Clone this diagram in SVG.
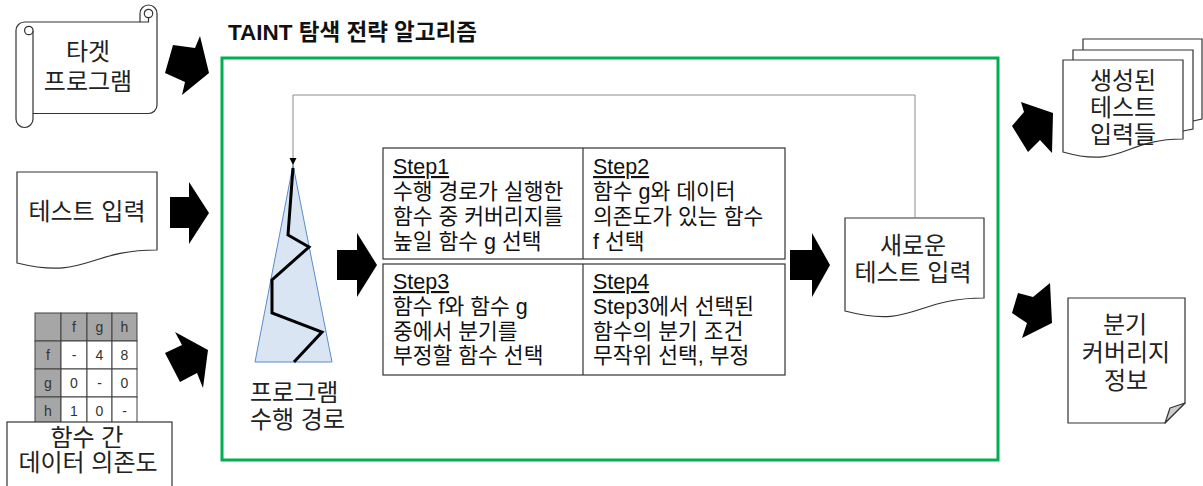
<svg xmlns="http://www.w3.org/2000/svg" width="1203" height="486" viewBox="0 0 1203 486">
<defs>
<style>
.t{font-family:"Liberation Sans","Noto Sans CJK KR",sans-serif;font-size:24px;fill:#222}
.c{text-anchor:middle}
.s{font-family:"Liberation Sans","Noto Sans CJK KR",sans-serif;font-size:21.5px;fill:#111}
.u{text-decoration:underline}
.ln{fill:#fff;stroke:#333;stroke-width:1.2}
.blk{fill:#000}
.cell{stroke:#404040;stroke-width:1}
.g{fill:#a6a6a6}
.w{fill:#fff}
.ct{font-family:"Liberation Sans",sans-serif;font-size:14px;fill:#333;text-anchor:middle}
</style>
<marker id="ah" markerWidth="8" markerHeight="8" refX="7" refY="4" orient="auto" markerUnits="userSpaceOnUse">
<path d="M0,0.5 L7,4 L0,7.5 Z" fill="#000"/>
</marker>
</defs>
<rect width="1203" height="486" fill="#fff"/>

<g id="title">
<text x="228" y="40" style="font-family:'Liberation Sans','Noto Sans CJK KR',sans-serif;font-size:22.5px;font-weight:bold;fill:#111">TAINT 탐색 전략 알고리즘</text>
</g>

<g id="frame">
<rect x="222" y="58" width="776" height="402" fill="none" stroke="#00b050" stroke-width="3"/>
</g>

<g id="target-program">
<path class="ln" d="M33,22 H140 V13.5 A8.5,8.5 0 0 1 157,13.5 V105 A8.5,8.5 0 0 1 148.5,113.5 H33 V119 A8.5,8.5 0 0 1 16,119 V30.5 A8.5,8.5 0 0 1 24.5,22 Z"/>
<path fill="none" stroke="#333" stroke-width="1.2" d="M33,30.5 V113.5 M140,22 H148.5 V13.5"/>
<circle cx="28.8" cy="30.5" r="4.2" fill="#fff" stroke="#333" stroke-width="1.2"/>
<circle cx="148.5" cy="13.5" r="4.2" fill="#fff" stroke="#333" stroke-width="1.2"/>
<text class="t c" x="88" y="60">타겟</text>
<text class="t c" x="88" y="90">프로그램</text>
</g>

<g id="test-input">
<path class="ln" d="M17,172 H157 V250 C87,250 87,280 17,263 Z"/>
<text class="t c" x="87" y="220">테스트 입력</text>
</g>

<g id="dependency">
<rect class="cell g" x="35" y="313" width="26" height="28"/>
<rect class="cell g" x="61" y="313" width="26" height="28"/>
<rect class="cell g" x="87" y="313" width="25" height="28"/>
<rect class="cell g" x="112" y="313" width="25" height="28"/>
<rect class="cell g" x="35" y="341" width="26" height="28"/>
<rect class="cell w" x="61" y="341" width="26" height="28"/>
<rect class="cell w" x="87" y="341" width="25" height="28"/>
<rect class="cell w" x="112" y="341" width="25" height="28"/>
<rect class="cell g" x="35" y="369" width="26" height="28"/>
<rect class="cell w" x="61" y="369" width="26" height="28"/>
<rect class="cell w" x="87" y="369" width="25" height="28"/>
<rect class="cell w" x="112" y="369" width="25" height="28"/>
<rect class="cell g" x="35" y="397" width="26" height="28"/>
<rect class="cell w" x="61" y="397" width="26" height="28"/>
<rect class="cell w" x="87" y="397" width="25" height="28"/>
<rect class="cell w" x="112" y="397" width="25" height="28"/>
<text class="ct" x="74" y="332">f</text>
<text class="ct" x="99.5" y="332">g</text>
<text class="ct" x="124.5" y="332">h</text>
<text class="ct" x="48" y="360">f</text>
<text class="ct" x="74" y="360">-</text>
<text class="ct" x="99.5" y="360">4</text>
<text class="ct" x="124.5" y="360">8</text>
<text class="ct" x="48" y="388">g</text>
<text class="ct" x="74" y="388">0</text>
<text class="ct" x="99.5" y="388">-</text>
<text class="ct" x="124.5" y="388">0</text>
<text class="ct" x="48" y="416">h</text>
<text class="ct" x="74" y="416">1</text>
<text class="ct" x="99.5" y="416">0</text>
<text class="ct" x="124.5" y="416">-</text>
<rect class="ln" x="7" y="422" width="165" height="72"/>
<text class="t c" x="87" y="446">함수 간</text>
<text class="t c" x="88" y="471">데이터 의존도</text>
</g>

<g id="execution-path">
<polygon points="293,165 255,362 332,362" fill="#dae5f3" stroke="#5b8bc9" stroke-width="1"/>
<polyline points="293,168 288,235 309,247 272,280 272,313 322,332 294,362" fill="none" stroke="#000" stroke-width="3"/>
<text class="t" x="250" y="401">프로그램</text>
<text class="t" x="250" y="428">수행 경로</text>
</g>

<g id="steps">
<rect class="ln" x="383" y="148" width="402" height="111"/>
<line x1="583" y1="148" x2="583" y2="259" stroke="#333" stroke-width="1.2"/>
<rect class="ln" x="383" y="264" width="402" height="111"/>
<line x1="583" y1="264" x2="583" y2="375" stroke="#333" stroke-width="1.2"/>
<text class="s u" x="393" y="174">Step1</text>
<text class="s" x="393" y="199">수행 경로가 실행한</text>
<text class="s" x="393" y="224">함수 중 커버리지를</text>
<text class="s" x="393" y="249">높일 함수 g 선택</text>
<text class="s u" x="593" y="174">Step2</text>
<text class="s" x="593" y="199">함수 g와 데이터</text>
<text class="s" x="593" y="224">의존도가 있는 함수</text>
<text class="s" x="593" y="249">f 선택</text>
<text class="s u" x="393" y="289">Step3</text>
<text class="s" x="393" y="314">함수 f와 함수 g</text>
<text class="s" x="393" y="339">중에서 분기를</text>
<text class="s" x="393" y="363">부정할 함수 선택</text>
<text class="s u" x="593" y="289">Step4</text>
<text class="s" x="593" y="314">Step3에서 선택된</text>
<text class="s" x="593" y="339">함수의 분기 조건</text>
<text class="s" x="593" y="363">무작위 선택, 부정</text>
</g>

<g id="new-input">
<path class="ln" d="M845,218 H984 V298 C914.5,298 914.5,329 845,311 Z"/>
<text class="t c" x="913" y="254">새로운</text>
<text class="t c" x="913" y="281">테스트 입력</text>
</g>

<g id="generated-inputs">
<path class="ln" d="M1083,50 V39 H1202 V119 L1193,121"/>
<path class="ln" d="M1073,60 V50 H1193 V129 L1183,131"/>
<path class="ln" d="M1063,60 H1183 V139 C1123,139 1123,169 1063,152 Z"/>
<text class="t c" x="1123" y="89">생성된</text>
<text class="t c" x="1123" y="116">테스트</text>
<text class="t c" x="1123" y="143">입력들</text>
</g>

<g id="branch-coverage">
<path class="ln" d="M1068,298 H1185 V403 L1165,423 H1068 Z"/>
<polygon points="1185,403 1165,423 1170,408" fill="#cdcdcd" stroke="#333" stroke-width="1.2" stroke-linejoin="round"/>
<text class="t c" x="1125" y="333">분기</text>
<text class="t c" x="1126" y="361">커버리지</text>
<text class="t c" x="1126" y="389">정보</text>
</g>

<g id="connectors">
<path d="M915,218 V95 H293 V165" fill="none" stroke="#8c8c8c" stroke-width="1" marker-end="url(#ah)"/>
<polygon class="blk" points="173,45 195,48 200,36 209,73 182,95 185,82 165,73"/>
<polygon class="blk" points="170,197 189,197 189,182 209,213 189,244 189,228 170,228"/>
<polygon class="blk" points="165,353 182,345 175,332 208,350 203,388 197,373 180,382"/>
<polygon class="blk" points="337,250 357,250 357,233 377,265 357,297 357,280 337,280"/>
<polygon class="blk" points="790,250 812,250 812,233 830,265 812,297 812,280 790,280"/>
<polygon class="blk" points="1012,126 1024,112 1021,102 1053,113 1052,153 1040,140 1028,152"/>
<polygon class="blk" points="1018,293 1033,297 1050,283 1052,323 1022,338 1027,323 1012,313"/>
</g>
</svg>
